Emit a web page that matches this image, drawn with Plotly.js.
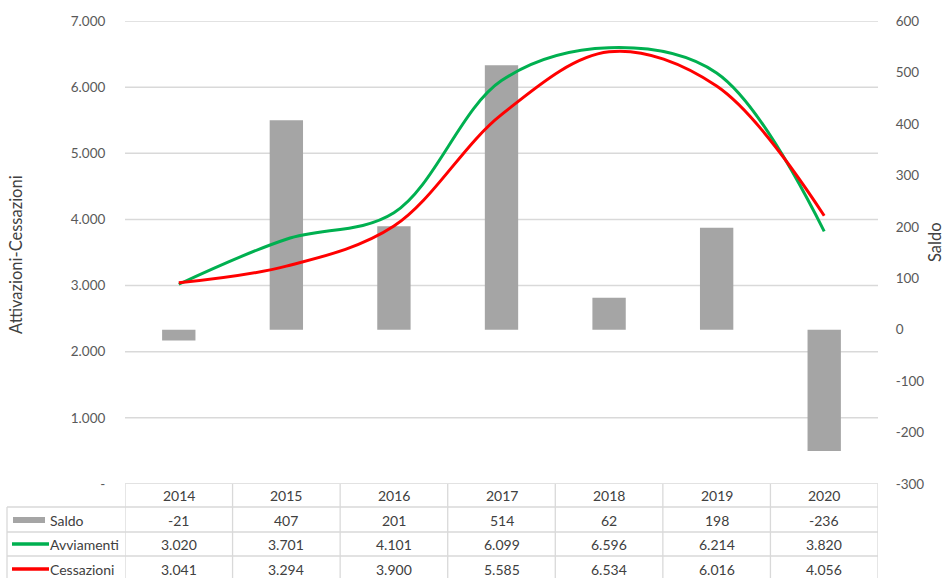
<!DOCTYPE html>
<html>
<head>
<meta charset="utf-8">
<script src="https://cdn.plot.ly/plotly-3.0.1.min.js"></script>
<style>
  html, body { margin: 0; padding: 0; background: #ffffff; }
  #chart { width: 944px; height: 578px; }
</style>
</head>
<body>
<div id="chart"></div>
<script>
// Anni e serie
const years = ['2014', '2015', '2016', '2017', '2018', '2019', '2020'];
const saldo = [-21, 407, 201, 514, 62, 198, -236];
const avviamenti = [3020, 3701, 4101, 6099, 6596, 6214, 3820];
const cessazioni = [3041, 3294, 3900, 5585, 6534, 6016, 4056];

const seriesNames = ['Saldo', 'Avviamenti', 'Cessazioni'];
const leftTicks = [0, 1000, 2000, 3000, 4000, 5000, 6000, 7000];
const rightTicks = [-300, -200, -100, 0, 100, 200, 300, 400, 500, 600];
const leftTitle = 'Attivazioni-Cessazioni';
const rightTitle = 'Saldo';

const GREEN = '#00B050';
const RED = '#FF0000';
const GREY = '#A5A5A5';
const GRID = '#D9D9D9';
const FONT = 'Lato, "Open Sans", sans-serif';

// Numero con separatore delle migliaia all'italiana
function fmtIt(n) {
  const s = String(Math.abs(n)).replace(/\B(?=(\d{3})+(?!\d))/g, '.');
  return (n < 0 ? '-' : '') + s;
}
// Formato contabile: lo zero diventa un trattino
function fmtAxis(n) { return n === 0 ? '-' : fmtIt(n); }

// Geometria dell'area del grafico (pixel)
const W = 944, H = 578;
const M = { l: 125, r: 66, t: 21, b: 94 };
const plotW = W - M.l - M.r, plotH = H - M.t - M.b;
const px2paperX = px => (px - M.l) / plotW;
const px2paperY = py => (H - M.b - py) / plotH;

const traces = [
  {
    type: 'bar', name: seriesNames[0], x: years, y: saldo,
    yaxis: 'y', marker: { color: GREY }, width: 0.31,
    hoverinfo: 'x+y'
  },
  {
    type: 'scatter', mode: 'lines', name: seriesNames[1], x: years, y: avviamenti,
    yaxis: 'y2', line: { color: GREEN, width: 3, shape: 'spline', smoothing: 1 }
  },
  {
    type: 'scatter', mode: 'lines', name: seriesNames[2], x: years, y: cessazioni,
    yaxis: 'y2', line: { color: RED, width: 3, shape: 'spline', smoothing: 1 }
  }
];

const shapes = [];
const annotations = [];

// Griglia orizzontale sull'asse di sinistra, dietro alle barre
leftTicks.forEach(v => {
  shapes.push({
    type: 'line', layer: 'below', xref: 'paper', yref: 'y2',
    x0: 0, x1: 1, y0: v, y1: v, line: { color: GRID, width: 1.5 }
  });
});

// Tabella dati sotto il grafico
const rowLines = [507, 532, 556];
const tableBottom = 590;
const tableLineStyle = { color: GRID, width: 1.3 };
rowLines.forEach(py => {
  shapes.push({
    type: 'line', xref: 'paper', yref: 'paper',
    x0: px2paperX(7), x1: 1, y0: px2paperY(py), y1: px2paperY(py), line: tableLineStyle
  });
});
for (let i = 0; i <= years.length; i++) {
  shapes.push({
    type: 'line', xref: 'x', yref: 'paper',
    x0: i - 0.5, x1: i - 0.5, y0: 0, y1: px2paperY(tableBottom), line: tableLineStyle
  });
}
shapes.push({
  type: 'line', xref: 'paper', yref: 'paper',
  x0: px2paperX(7), x1: px2paperX(7), y0: px2paperY(rowLines[0]), y1: px2paperY(tableBottom),
  line: tableLineStyle
});

const rowCenters = [496, 520, 544, 569];
const cellFont = { family: FONT, size: 14, color: '#404040' };
const rows = [saldo, avviamenti, cessazioni];

// Celle: una colonna per anno, posizionata sull'indice di categoria
years.forEach((yr, i) => {
  annotations.push({
    xref: 'x', yref: 'paper', x: i, y: px2paperY(rowCenters[0]),
    text: yr, showarrow: false, font: cellFont, xanchor: 'center', yanchor: 'middle'
  });
  rows.forEach((arr, r) => {
    annotations.push({
      xref: 'x', yref: 'paper', x: i, y: px2paperY(rowCenters[r + 1]),
      text: fmtIt(arr[i]), showarrow: false, font: cellFont, xanchor: 'center', yanchor: 'middle'
    });
  });
});

// Etichette di riga con i simboli della legenda
seriesNames.forEach((name, r) => {
  annotations.push({
    xref: 'paper', yref: 'paper', x: px2paperX(48), y: px2paperY(rowCenters[r + 1]),
    text: name, showarrow: false, font: cellFont, xanchor: 'left', yanchor: 'middle'
  });
});
shapes.push({
  type: 'rect', xref: 'paper', yref: 'paper',
  x0: px2paperX(13), x1: px2paperX(45), y0: px2paperY(517), y1: px2paperY(523),
  fillcolor: GREY, line: { width: 0 }
});
[[GREEN, 544], [RED, 569]].forEach(([c, py]) => {
  shapes.push({
    type: 'line', xref: 'paper', yref: 'paper',
    x0: px2paperX(12), x1: px2paperX(49), y0: px2paperY(py), y1: px2paperY(py),
    line: { color: c, width: 3.5 }
  });
});

// Titoli degli assi
const titleFont = { family: FONT, size: 16.5, color: '#404040' };
annotations.push({
  xref: 'paper', yref: 'paper', x: px2paperX(16), y: px2paperY(254),
  text: leftTitle, textangle: -90, showarrow: false,
  font: titleFont, xanchor: 'center', yanchor: 'middle'
});
annotations.push({
  xref: 'paper', yref: 'paper', x: px2paperX(935), y: px2paperY(242),
  text: rightTitle, textangle: -90, showarrow: false,
  font: titleFont, xanchor: 'center', yanchor: 'middle'
});

const tickFont = { family: FONT, size: 13.5, color: '#595959' };

const layout = {
  width: W, height: H,
  margin: M,
  paper_bgcolor: '#ffffff',
  plot_bgcolor: 'rgba(0,0,0,0)',
  showlegend: false,
  barmode: 'overlay',
  xaxis: {
    type: 'category', range: [-0.5, years.length - 0.5],
    showticklabels: false, showgrid: false, zeroline: false, showline: false, ticks: ''
  },
  yaxis: {
    side: 'right', range: [rightTicks[0], rightTicks[rightTicks.length - 1]],
    tickvals: rightTicks, ticktext: rightTicks.map(String),
    showgrid: false, zeroline: false, showline: false,
    ticks: 'outside', ticklen: 14, tickcolor: 'rgba(0,0,0,0)',
    tickfont: tickFont
  },
  yaxis2: {
    overlaying: 'y', side: 'left',
    range: [leftTicks[0], leftTicks[leftTicks.length - 1]],
    tickvals: leftTicks, ticktext: leftTicks.map(fmtAxis),
    showgrid: false, zeroline: false, showline: false,
    ticks: 'outside', ticklen: 16, tickcolor: 'rgba(0,0,0,0)',
    tickfont: tickFont
  },
  shapes: shapes,
  annotations: annotations
};

Plotly.newPlot('chart', traces, layout, { displayModeBar: false, staticPlot: true });
</script>
</body>
</html>
